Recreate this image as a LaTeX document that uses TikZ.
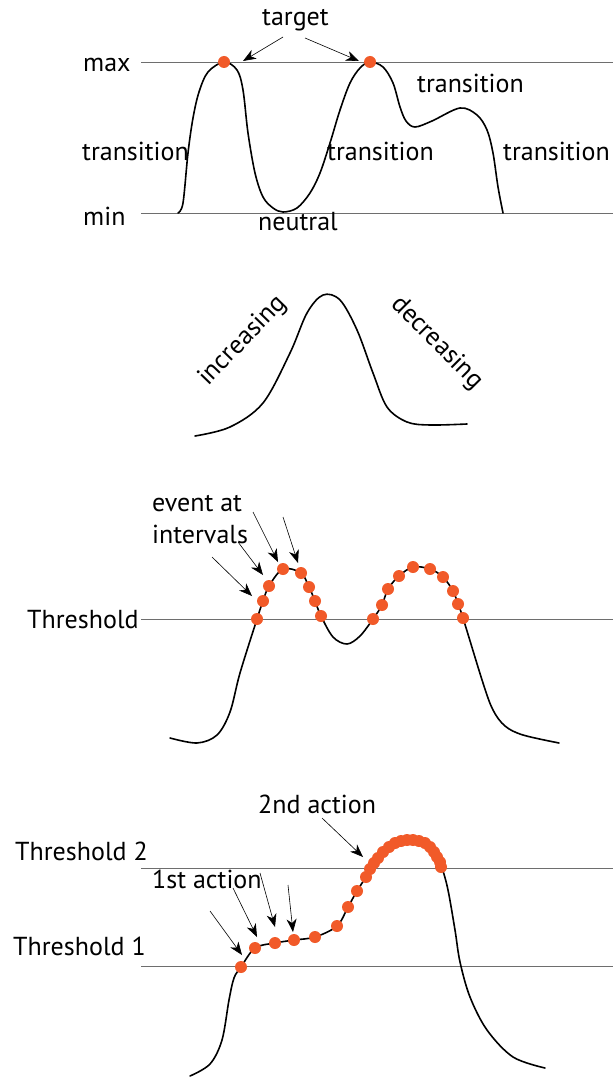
\documentclass[tikz,border=0pt]{standalone}
\usepackage{fontspec}
\setmainfont{PT Sans}
\usetikzlibrary{arrows.meta}
\definecolor{dotc}{HTML}{F15A29}
\definecolor{guidec}{HTML}{6E6E6E}
\tikzset{
  curve/.style={line width=1.6pt, black, line cap=round, line join=round},
  guide/.style={line width=0.8pt, guidec},
  dot/.style={circle, fill=dotc, inner sep=0pt, minimum size=12pt},
  lbl/.style={font=\fontsize{26pt}{30pt}\selectfont, inner sep=0pt},
  pointer/.style={line width=0.6pt, -{Stealth[length=13pt,width=10pt,inset=4pt]}},
}
\begin{document}
\begin{tikzpicture}[x=1pt, y=-1pt]
\fill[white] (0,0) rectangle (613,1078);
\useasboundingbox (0,0) rectangle (613,1078);

% ---------- panel 1: max / min band ----------
\coordinate (maxL) at (141,62);  \coordinate (maxR) at (613,62);
\coordinate (minL) at (141,213); \coordinate (minR) at (613,213);
\draw[guide] (maxL) -- (maxR);
\draw[guide] (minL) -- (minR);
\draw[curve] plot[smooth, tension=0.55] coordinates {
  (178,213) (183,203) (188,153) (193,118) (199,92) (208,72) (224,62)
  (237,70) (243,90) (248,133) (255,173) (263,197) (273,208) (283,212)
  (297,208) (310,193) (320,173) (330,143) (340,110) (350,83) (360,68) (370,62)
  (383,67) (393,83) (400,107) (406,121) (415,127) (432,121) (460,108)
  (477,115) (487,130) (493,153) (498,187) (503,213)};
\node[dot] (t1) at (224,62) {};
\node[dot] (t2) at (370,62) {};
\node[lbl, anchor=base west] (lmax) at (83,72) {max};
\node[lbl, anchor=base west] (lmin) at (83,225) {min};
\node[lbl, anchor=base west] (ltarget) at (262,26) {target};
\node[lbl, anchor=base west] (tr1) at (82,161) {transition};
\node[lbl, anchor=base west] (tr2) at (327,161) {transition};
\node[lbl, anchor=base west] (tr3) at (417,93) {transition};
\node[lbl, anchor=base west] (tr4) at (503,161) {transition};
\node[lbl, anchor=base west] (lneutral) at (258,230) {neutral};
\coordinate (ta1) at (283,37); \coordinate (tb1) at (243,61);
\coordinate (ta2) at (305,38); \coordinate (tb2) at (359,61);
\draw[pointer] (ta1) -- (tb1);
\draw[pointer] (ta2) -- (tb2);

% ---------- panel 2: single peak ----------
\draw[curve] plot[smooth, tension=0.55] coordinates {
  (195,436) (230,427) (263,403) (290,353) (307,313) (323,295) (340,300)
  (357,330) (373,373) (387,407) (407,422) (430,425) (467,424)};
\node[lbl, rotate=46] (linc) at (243,341) {increasing};
\node[lbl, rotate=-45] (ldec) at (437,343) {decreasing};

% ---------- panel 3: one threshold ----------
\coordinate (thL) at (141,619); \coordinate (thR) at (613,619);
\draw[guide] (thL) -- (thR);
\draw[curve] plot[smooth, tension=0.55] coordinates {
  (170,738) (197,743) (217,735) (230,712) (240,673) (257,619) (263,601)
  (269,586) (283,569) (301,573) (309,587) (315,601) (321,616) (333,637)
  (347,644) (360,636) (373,619) (382,605) (388,589) (399,576) (413,567)
  (430,569) (443,577) (453,591) (458,604) (463,618) (483,683) (493,710)
  (505,726) (523,735) (559,743)};
\foreach \p [count=\i] in {(257,619),(263,601),(269,586),(283,569),(301,573),
  (309,587),(315,601),(321,616),(373,619),(382,605),(388,589),(399,576),
  (413,567),(430,569),(443,577),(453,591),(458,604),(463,618)}
  \node[dot] (e\i) at \p {};
\node[lbl, anchor=base west] (lth) at (27,628) {Threshold};
\node[lbl, anchor=base west] (lev1) at (152,511) {event at};
\node[lbl, anchor=base west] (lev2) at (152,543) {intervals};
\coordinate (ea1) at (212,557); \coordinate (eb1) at (252,596);
\coordinate (ea2) at (238,542); \coordinate (eb2) at (263,575);
\coordinate (ea3) at (253,512); \coordinate (eb3) at (278,562);
\coordinate (ea4) at (283,517); \coordinate (eb4) at (298,563);
\foreach \i in {1,...,4} \draw[pointer] (ea\i) -- (eb\i);

% ---------- panel 4: two thresholds ----------
\coordinate (t2L) at (141,868); \coordinate (t2R) at (613,868);
\coordinate (t1L) at (141,966); \coordinate (t1R) at (613,966);
\draw[guide] (t2L) -- (t2R);
\draw[guide] (t1L) -- (t1R);
\draw[curve] plot[smooth, tension=0.55] coordinates {
  (190,1076) (210,1064) (222,1040) (229,1000) (234,978) (241,967) (255,948)
  (275,943) (294,940) (315,937) (337,926) (348,907) (357,891) (366,877)
  (378,858) (392,845) (410,840) (425,843) (436,855) (442,868) (448,890)
  (455,930) (460,962) (470,997) (487,1030) (513,1057) (545,1068)};
\foreach \p [count=\i] in {(241,967),(255,948),(275,943),(294,940),(315,937),
  (337,926),(348,907),(357,891),(366,877),(370,869),(374,863),(378,858),
  (383,852),(389,847),(395,843),(401,841),(407,840),(413,840),(419,841),
  (425,843),(430,847),(434,852),(437,857),(440,862),(441,867)}
  \node[dot] (a\i) at \p {};
\node[lbl, anchor=base west] (lt2) at (15,860) {Threshold 2};
\node[lbl, anchor=base west] (lt1) at (13,955) {Threshold 1};
\node[lbl, anchor=base west] (l1st) at (152,888) {1st action};
\node[lbl, anchor=base west] (l2nd) at (258,813) {2nd action};
\coordinate (fa1) at (210,911); \coordinate (fb1) at (242,955);
\coordinate (fa2) at (233,888); \coordinate (fb2) at (257,937);
\coordinate (fa3) at (260,873); \coordinate (fb3) at (275,927);
\coordinate (fa4) at (288,885); \coordinate (fb4) at (293,932);
\foreach \i in {1,...,4} \draw[pointer] (fa\i) -- (fb\i);
\coordinate (sa) at (322,818); \coordinate (sb) at (363,857);
\draw[pointer] (sa) -- (sb);
\end{tikzpicture}
\end{document}
